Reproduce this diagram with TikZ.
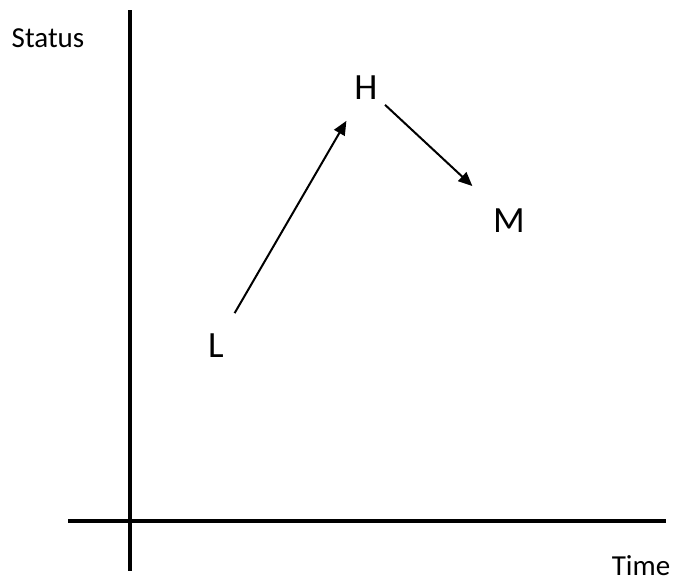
\documentclass[tikz,border=0pt]{standalone}
\usepackage{fontspec}
\setmainfont{Carlito}
\usetikzlibrary{arrows.meta}

\begin{document}
\begin{tikzpicture}[x=1pt,y=-1pt,
      axis/.style={line width=4pt,draw=black},
      arr/.style={-{Triangle[length=14pt,width=12pt]},line width=2pt,draw=black},
      state/.style={anchor=base,inner sep=0pt,font=\fontsize{37}{42}\selectfont},
      axlabel/.style={anchor=base,inner sep=0pt,font=\fontsize{29}{34}\selectfont}]
    \useasboundingbox (0,0) rectangle (674,581);
    \draw[axis] (130,10) -- (130,571);
    \draw[axis] (68,521) -- (666,521);
    \node[axlabel] (status) at (48,47) {Status};
    \node[axlabel] (time) at (641,575) {Time};
    \node[state] (L) at (216,357) {L};
    \node[state] (H) at (366,99) {H};
    \node[state] (M) at (509,232) {M};
    \draw[arr,shorten <=37pt,shorten >=39pt] (L.center) -- (H.center);
    \draw[arr,shorten <=26pt,shorten >=50pt] (H.center) -- (M.center);
\end{tikzpicture}
\end{document}
